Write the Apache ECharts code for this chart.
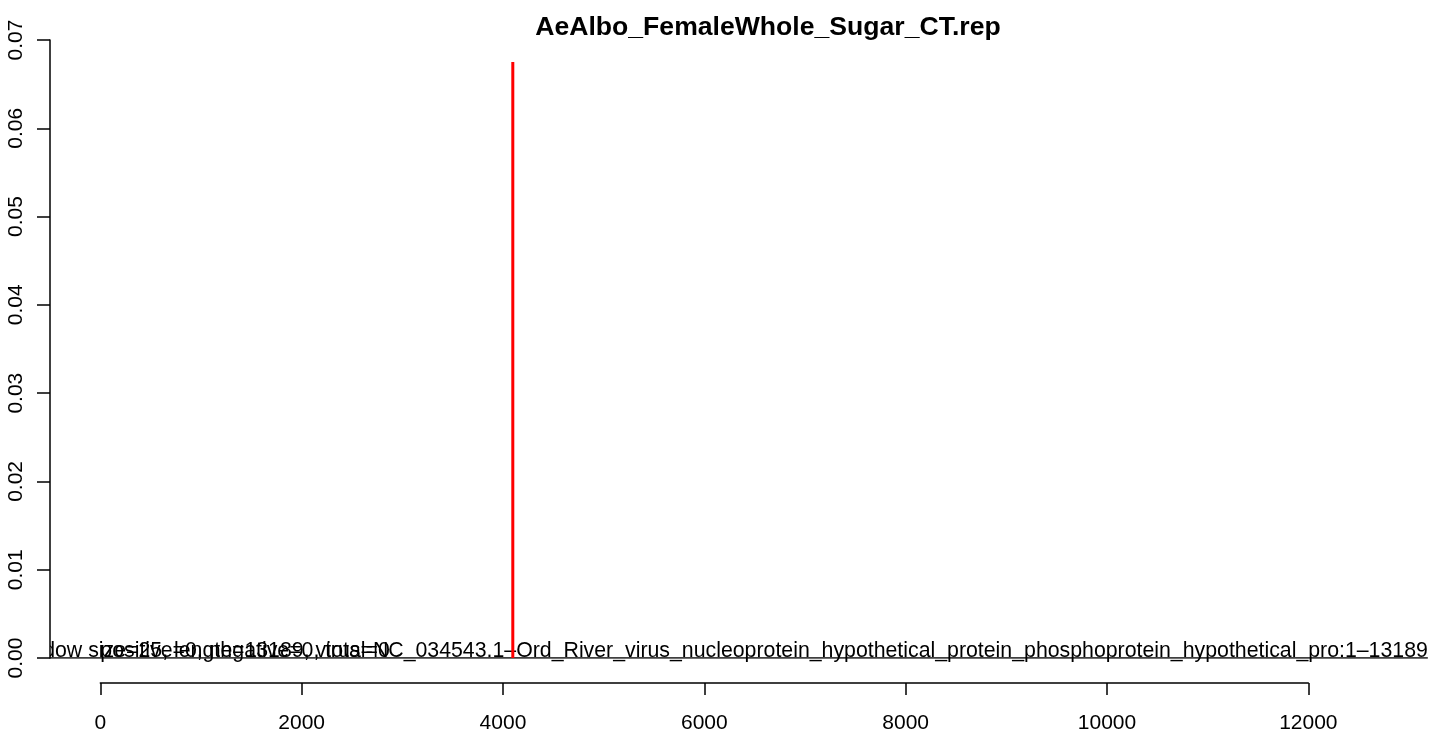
<!DOCTYPE html>
<html>
<head>
<meta charset="utf-8">
<script src="https://cdn.jsdelivr.net/npm/echarts@6/dist/echarts.min.js"></script>
<style>
html,body{margin:0;padding:0;background:#fff;}
#chart{width:1439px;height:734px;}
</style>
</head>
<body>
<div id="chart"></div>
<script>
// ---- data ----
const chartTitle = "AeAlbo_FemaleWhole_Sugar_CT.rep";
const xTicks = [0, 2000, 4000, 6000, 8000, 10000, 12000];
const yTicks = [0, 0.01, 0.02, 0.03, 0.04, 0.05, 0.06, 0.07];
const peakX = [4098, 4098];
const peakY = [0, 0.0675];
const baseX = [-500, 13189];
const baseY = [0, 0];
const annotX = [13189, 0];
const annotY = [0, 0];
const annotText = [
  "window size=25, length=13189, virus=NC_034543.1\u2013Ord_River_virus_nucleoprotein_hypothetical_protein_phosphoprotein_hypothetical_pro:1\u201313189",
  "positive=0, negative=0, total=0"
];

const FONT = "'Liberation Sans', Arial, sans-serif";
const chart = echarts.init(document.getElementById('chart'), null, {renderer: 'canvas'});

const zip = (a, b) => a.map((v, i) => [v, b[i]]);

const option = {
  backgroundColor: '#ffffff',
  animation: false,
  title: {
    text: chartTitle,
    left: 763, top: 9, textAlign: 'center',
    textStyle: {fontFamily: FONT, fontSize: 26.6, fontWeight: 'bold', color: '#000'}
  },
  grid: [
    {left: 50, top: 40, width: 1389.2, height: 618, containLabel: false},
    {left: 100.3, top: 682, width: 12000 * 0.10067, height: 1, containLabel: false}
  ],
  xAxis: [
    {gridIndex: 0, type: 'value', min: -500, max: 13300, show: false},
    {gridIndex: 1, type: 'value', min: xTicks[0], max: xTicks[xTicks.length - 1], interval: 2000,
     position: 'bottom',
     axisLine: {show: true, lineStyle: {color: '#000', width: 1.5}},
     axisTick: {show: true, length: 12, lineStyle: {color: '#000', width: 1.5}},
     splitLine: {show: false},
     axisLabel: {fontFamily: FONT, fontSize: 21, color: '#000', margin: 30,
                 formatter: v => String(v)}}
  ],
  yAxis: [
    {gridIndex: 0, type: 'value', min: yTicks[0], max: yTicks[yTicks.length - 1], interval: 0.01,
     position: 'left',
     axisLine: {show: true, onZero: false, lineStyle: {color: '#000', width: 1.5}},
     axisTick: {show: true, length: 13, lineStyle: {color: '#000', width: 1.5}},
     splitLine: {show: false},
     axisLabel: {fontFamily: FONT, fontSize: 21, color: '#000', rotate: 90, margin: 23,
                 formatter: v => v.toFixed(2)}},
    {gridIndex: 1, type: 'value', min: 0, max: 1, show: false}
  ],
  series: [
    {
      type: 'line', xAxisIndex: 0, yAxisIndex: 0, data: zip(baseX, baseY),
      symbol: 'none', lineStyle: {color: '#000', width: 1.5}, silent: true
    },
    {
      type: 'line', xAxisIndex: 0, yAxisIndex: 0, data: zip(peakX, peakY),
      symbol: 'none', lineStyle: {color: '#ff0000', width: 3}, silent: true, z: 5
    },
    {
      type: 'custom', xAxisIndex: 0, yAxisIndex: 0, clip: false, z: 4,
      data: annotX.map((x, i) => [x, annotY[i], i]),
      renderItem: function (params, api) {
        const p = api.coord([api.value(0), api.value(1)]);
        const idx = api.value(2);
        const cs = params.coordSys;
        return {
          type: 'text',
          x: p[0], y: p[1] + 3.5,
          clipPath: {
            type: 'rect',
            shape: {x: cs.x - p[0], y: cs.y - p[1] - 3.5, width: cs.width, height: cs.height + 30}
          },
          style: {
            text: annotText[idx],
            fontFamily: FONT, fontSize: 21.3, fill: '#000',
            align: idx === 0 ? 'right' : 'left',
            verticalAlign: 'bottom'
          }
        };
      }
    }
  ]
};
chart.setOption(option);
</script>
</body>
</html>
